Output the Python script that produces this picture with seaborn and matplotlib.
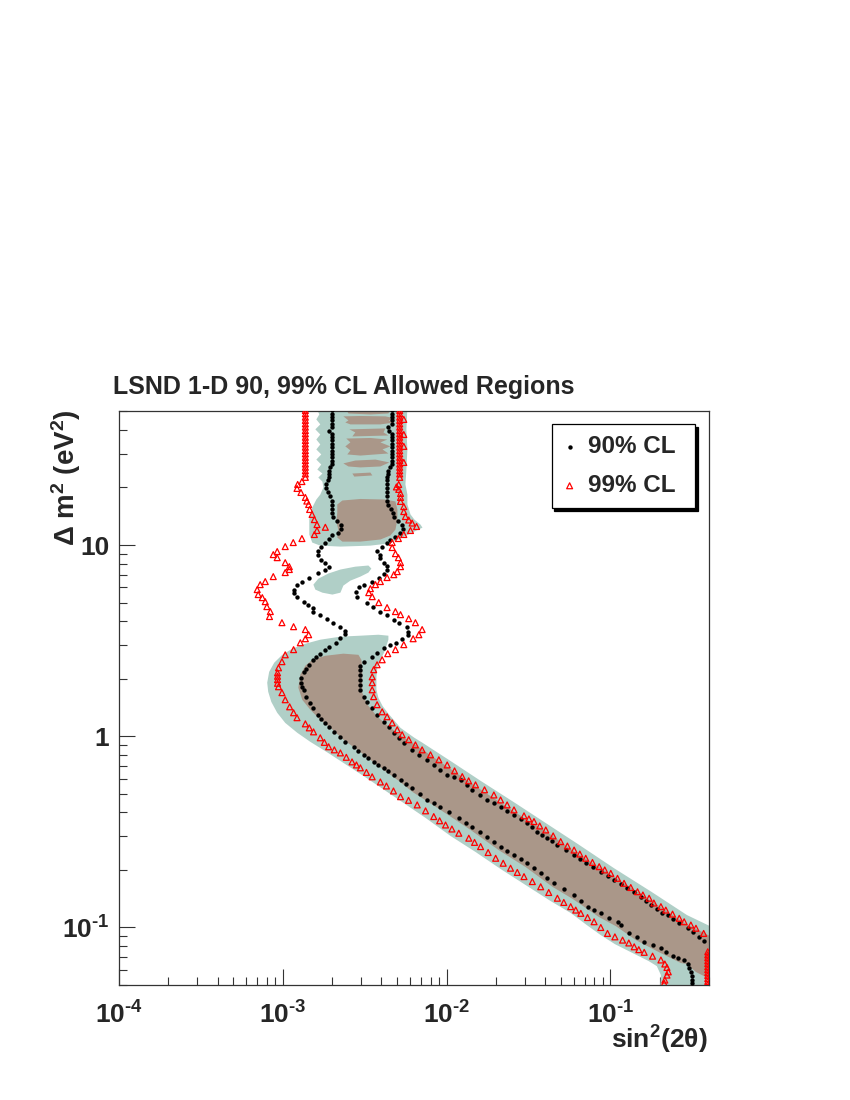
import numpy as np
import pandas as pd
import seaborn as sns
import matplotlib.pyplot as plt
from matplotlib.ticker import FixedLocator, FixedFormatter, LogLocator, NullFormatter

# all values are log10: lx = log10 sin^2(2theta), ly = log10 dm^2

# 90% CL, left edge
ly90_left = [1.704, 1.687, 1.669, 1.652, 1.634, 1.617, 1.599, 1.582, 1.564, 1.547,
             1.529, 1.512, 1.494, 1.477, 1.459, 1.442, 1.424, 1.407, 1.389, 1.372,
             1.354, 1.338, 1.317, 1.296, 1.275, 1.254, 1.233, 1.212, 1.191, 1.170,
             1.149, 1.128, 1.107, 1.086, 1.065, 1.050, 1.034, 1.013, 0.992, 0.971,
             0.950,
             0.924, 0.908, 0.887, 0.872, 0.856, 0.830, 0.809, 0.793, 0.767, 0.751,
             0.730, 0.704, 0.688, 0.673, 0.652, 0.636, 0.615, 0.594, 0.573, 0.552,
             0.536, 0.515, 0.489, 0.468, 0.453, 0.432, 0.416, 0.400, 0.374, 0.353,
             0.337, 0.306, 0.280, 0.259, 0.243, 0.207, 0.175, 0.149, 0.112, 0.091,
             0.070, 0.047, 0.023, -0.003, -0.029, -0.055, -0.076, -0.097, -0.116, -0.134,
             -0.150, -0.165, -0.184, -0.202, -0.228, -0.249, -0.272, -0.301, -0.333, -0.351,
             -0.368, -0.398, -0.429, -0.451, -0.473, -0.499, -0.525, -0.551, -0.577, -0.600,
             -0.621, -0.642, -0.664, -0.690, -0.717, -0.743, -0.769, -0.799, -0.830, -0.862,
             -0.891, -0.909, -0.926, -0.948, -0.970, -0.987, -1.031, -1.049, -1.075, -1.092,
             -1.109, -1.127, -1.150, -1.160, -1.170, -1.191, -1.214, -1.232, -1.254, -1.275,
             -1.292]
lx90_left = [-2.699, -2.699, -2.699, -2.699, -2.699, -2.699, -2.716, -2.699, -2.699, -2.699,
             -2.699, -2.699, -2.699, -2.699, -2.699, -2.699, -2.699, -2.710, -2.716, -2.716,
             -2.720, -2.725, -2.734, -2.734, -2.722, -2.709, -2.699, -2.699, -2.699, -2.699,
             -2.691, -2.667, -2.645, -2.642, -2.661, -2.697, -2.720, -2.744, -2.766, -2.787,
             -2.787,
             -2.766, -2.740, -2.717, -2.740, -2.787, -2.838, -2.883, -2.913, -2.934, -2.934,
             -2.913, -2.873, -2.844, -2.815, -2.815, -2.771, -2.730, -2.693, -2.648, -2.618,
             -2.618, -2.648, -2.673, -2.716, -2.744, -2.771, -2.795, -2.815, -2.842, -2.859,
             -2.873, -2.887, -2.887, -2.881, -2.873, -2.856, -2.832, -2.815, -2.787, -2.764,
             -2.740, -2.716, -2.689, -2.648, -2.618, -2.567, -2.538, -2.506, -2.477, -2.445,
             -2.416, -2.383, -2.355, -2.322, -2.281, -2.245, -2.210, -2.165, -2.118, -2.079,
             -2.037, -1.982, -1.925, -1.884, -1.843, -1.798, -1.751, -1.713, -1.670, -1.630,
             -1.588, -1.547, -1.506, -1.466, -1.425, -1.384, -1.344, -1.284, -1.221, -1.180,
             -1.139, -1.101, -1.058, -1.009, -0.956, -0.936, -0.885, -0.834, -0.793, -0.742,
             -0.691, -0.661, -0.620, -0.584, -0.549, -0.524, -0.518, -0.508, -0.503, -0.503,
             -0.503]

# 90% CL, right edge
ly90_right = [1.704, 1.687, 1.669, 1.652, 1.634, 1.617, 1.599, 1.582, 1.564, 1.547,
              1.529, 1.512, 1.494, 1.477, 1.459, 1.442, 1.424, 1.407, 1.389, 1.372,
              1.354, 1.338, 1.317, 1.296, 1.275, 1.254, 1.233, 1.212, 1.191, 1.170,
              1.149, 1.128, 1.107, 1.086, 1.065, 1.044, 1.029, 1.013, 0.992, 0.971,
              0.950,
              0.934, 0.908, 0.890, 0.872, 0.851, 0.830, 0.809, 0.793, 0.780, 0.756,
              0.730, 0.699, 0.678, 0.652, 0.636, 0.610, 0.594, 0.573, 0.547, 0.531,
              0.510, 0.489, 0.476, 0.463, 0.437, 0.416, 0.390, 0.369, 0.348, 0.322,
              0.296, 0.270, 0.243, 0.207, 0.180, 0.149, 0.112, 0.076, 0.049, 0.018,
              -0.008, -0.034, -0.071, -0.097, -0.123, -0.150, -0.176, -0.202, -0.215, -0.228,
              -0.254, -0.280, -0.307, -0.333, -0.351, -0.368, -0.390, -0.411, -0.432, -0.455,
              -0.477, -0.499, -0.516, -0.533, -0.550, -0.568, -0.594, -0.621, -0.642, -0.664,
              -0.686, -0.708,
              -0.731, -0.752, -0.773, -0.795, -0.817, -0.839, -0.862, -0.883, -0.904, -0.926,
              -0.935, -0.953, -0.977, -1.004, -1.022, -1.048, -1.069]
lx90_right = [-2.332, -2.332, -2.332, -2.332, -2.332, -2.357, -2.350, -2.332, -2.332, -2.332,
              -2.332, -2.332, -2.332, -2.332, -2.332, -2.332, -2.332, -2.345, -2.355, -2.360,
              -2.363, -2.363, -2.363, -2.363, -2.363, -2.363, -2.363, -2.357, -2.338, -2.328,
              -2.318, -2.296, -2.272, -2.266, -2.283, -2.312, -2.343, -2.363, -2.393, -2.424,
              -2.408,
              -2.408, -2.383, -2.363, -2.363, -2.383, -2.414, -2.454, -2.506, -2.536, -2.550,
              -2.546, -2.485, -2.448, -2.404, -2.363, -2.322, -2.292, -2.240, -2.237, -2.237,
              -2.271, -2.306, -2.343, -2.379, -2.424, -2.454, -2.506, -2.526, -2.526, -2.526,
              -2.526, -2.526, -2.526, -2.506, -2.485, -2.454, -2.424, -2.383, -2.353, -2.322,
              -2.292, -2.261, -2.210, -2.169, -2.118, -2.078, -2.037, -1.996, -1.957, -1.914,
              -1.878, -1.843, -1.798, -1.751, -1.713, -1.670, -1.630, -1.588, -1.547, -1.506,
              -1.476, -1.445, -1.415, -1.384, -1.354, -1.323, -1.272, -1.221, -1.186, -1.150,
              -1.104, -1.058,
              -1.017, -0.977, -0.936, -0.895, -0.854, -0.813, -0.783, -0.752, -0.716, -0.685,
              -0.650, -0.618, -0.579, -0.528, -0.497, -0.457, -0.430]

# 99% CL, left edge
ly99_left = [1.704, 1.687, 1.669, 1.652, 1.634, 1.617, 1.599, 1.582, 1.564, 1.547,
             1.529, 1.512, 1.494, 1.477, 1.459, 1.442, 1.424, 1.407, 1.389, 1.372,
             1.354,
             1.332, 1.317, 1.296, 1.275, 1.249, 1.230, 1.212, 1.186, 1.160, 1.133,
             1.107, 1.093, 1.076, 1.055, 1.034, 1.013, 0.992, 0.966, 0.950, 0.934,
             0.908, 0.887, 0.872, 0.856, 0.835, 0.809, 0.793, 0.767, 0.741, 0.725,
             0.704, 0.678, 0.652, 0.626, 0.594, 0.573, 0.558, 0.531, 0.510, 0.489,
             0.453, 0.426, 0.390, 0.358, 0.332, 0.314, 0.296, 0.277, 0.259, 0.228,
             0.191, 0.154, 0.123, 0.097, 0.065, 0.044, 0.023, -0.008, -0.032, -0.055,
             -0.071, -0.087, -0.110, -0.134, -0.150, -0.165, -0.189, -0.212, -0.239, -0.260,
             -0.286, -0.316, -0.335, -0.359, -0.390, -0.420, -0.442, -0.464, -0.485, -0.507,
             -0.533, -0.555, -0.577, -0.608, -0.638, -0.664, -0.690, -0.712, -0.734, -0.760,
             -0.787, -0.817, -0.847, -0.869, -0.891, -0.909, -0.926, -0.948, -0.970, -1.000,
             -1.031,
             -1.049, -1.066, -1.081, -1.101, -1.116, -1.130, -1.150, -1.170, -1.191, -1.209,
             -1.232, -1.249, -1.275, -1.292]
lx99_left = [-2.862, -2.862, -2.862, -2.862, -2.862, -2.862, -2.862, -2.862, -2.862, -2.862,
             -2.862, -2.862, -2.862, -2.862, -2.862, -2.862, -2.862, -2.862, -2.862, -2.862,
             -2.862,
             -2.883, -2.909, -2.913, -2.889, -2.862, -2.853, -2.842, -2.836, -2.821, -2.807,
             -2.791, -2.740, -2.791, -2.807, -2.883, -2.936, -2.985, -3.034, -3.058, -3.034,
             -2.985, -2.960, -2.960, -2.985, -3.058, -3.107, -3.138, -3.156, -3.150, -3.125,
             -3.107, -3.097, -3.076, -3.081, -3.005, -2.934, -2.862, -2.842, -2.862, -2.893,
             -2.934, -2.985, -3.005, -3.026, -3.032, -3.032, -3.032, -3.032, -3.026, -3.005,
             -2.985, -2.958, -2.934, -2.913, -2.862, -2.838, -2.812, -2.771, -2.746, -2.720,
             -2.685, -2.648, -2.612, -2.577, -2.550, -2.526, -2.489, -2.454, -2.404, -2.367,
             -2.324, -2.281, -2.232, -2.179, -2.128, -2.078, -2.042, -2.006, -1.967, -1.925,
             -1.864, -1.829, -1.792, -1.746, -1.700, -1.654, -1.609, -1.568, -1.527, -1.476,
             -1.425, -1.376, -1.323, -1.284, -1.242, -1.211, -1.180, -1.139, -1.099, -1.058,
             -1.017,
             -0.972, -0.925, -0.887, -0.854, -0.826, -0.793, -0.742, -0.691, -0.667, -0.654,
             -0.646, -0.654, -0.667, -0.671]

# 99% CL, right edge (last block: column on the right border)
ly99_right = [1.704, 1.687, 1.669, 1.652, 1.634, 1.617, 1.599, 1.582, 1.564, 1.547,
              1.529, 1.512, 1.494, 1.477, 1.459, 1.442, 1.424, 1.407, 1.389, 1.372,
              1.354,
              1.657, 1.578, 1.516, 1.432,
              1.317, 1.304, 1.291, 1.270, 1.249, 1.228, 1.201, 1.175, 1.149, 1.131,
              1.115, 1.097, 1.076, 1.055, 1.034, 1.013, 0.987, 0.955, 0.934, 0.908,
              0.887, 0.861, 0.845, 0.830, 0.809, 0.793, 0.772, 0.751, 0.730, 0.699,
              0.673, 0.652, 0.636, 0.615, 0.594, 0.558, 0.531, 0.510, 0.479, 0.453,
              0.432, 0.400, 0.374, 0.348, 0.311, 0.280, 0.243, 0.207, 0.165, 0.128,
              0.102, 0.070, 0.034, 0.008, -0.018, -0.045, -0.071, -0.097, -0.123, -0.150,
              -0.181, -0.211, -0.233, -0.254, -0.280, -0.307, -0.333, -0.359, -0.385, -0.416,
              -0.432,
              -0.446, -0.469, -0.490, -0.521, -0.551, -0.574, -0.595, -0.616, -0.638, -0.660,
              -0.682, -0.699, -0.717, -0.743, -0.769, -0.791, -0.813, -0.830, -0.847, -0.872,
              -0.891, -0.909, -0.930, -0.952, -0.970, -0.987, -1.004, -1.031,
              -1.127, -1.143, -1.158, -1.174, -1.189, -1.205, -1.220, -1.236, -1.251, -1.267,
              -1.282, -1.298]
lx99_right = [-2.286, -2.286, -2.286, -2.286, -2.286, -2.286, -2.286, -2.286, -2.286, -2.286,
              -2.286, -2.286, -2.286, -2.286, -2.286, -2.286, -2.286, -2.286, -2.286, -2.286,
              -2.286,
              -2.261, -2.261, -2.261, -2.261,
              -2.292, -2.306, -2.292, -2.281, -2.281, -2.281, -2.261, -2.261, -2.251, -2.231,
              -2.210, -2.183, -2.220, -2.261, -2.294, -2.332, -2.332, -2.312, -2.294, -2.281,
              -2.281, -2.301, -2.322, -2.363, -2.404, -2.434, -2.465, -2.475, -2.454, -2.414,
              -2.363, -2.312, -2.281, -2.231, -2.190, -2.149, -2.169, -2.204, -2.261, -2.312,
              -2.359, -2.393, -2.424, -2.445, -2.454, -2.454, -2.454, -2.445, -2.424, -2.393,
              -2.363, -2.332, -2.301, -2.271, -2.231, -2.190, -2.149, -2.098, -2.047, -1.996,
              -1.951, -1.904, -1.865, -1.823, -1.768, -1.711, -1.670, -1.630, -1.588, -1.527,
              -1.497,
              -1.466, -1.431, -1.394, -1.349, -1.303, -1.262, -1.221, -1.186, -1.150, -1.109,
              -1.068, -1.034, -0.997, -0.956, -0.916, -0.875, -0.834, -0.801, -0.763, -0.734,
              -0.691, -0.661, -0.620, -0.579, -0.549, -0.508, -0.477, -0.430,
              -0.405, -0.405, -0.405, -0.405, -0.405, -0.405, -0.405, -0.405, -0.405, -0.405,
              -0.405, -0.405]

# 99% CL allowed region outlines (green)
green_top_lx = [-2.783, -2.239, -2.245, -2.239, -2.245, -2.251, -2.239, -2.239, -2.220, -2.196,
                -2.159, -2.147, -2.183, -2.245, -2.294, -2.355, -2.465, -2.648, -2.771, -2.820,
                -2.838, -2.838, -2.820, -2.795, -2.771, -2.752, -2.758, -2.783, -2.758, -2.789,
                -2.765, -2.795, -2.765, -2.795, -2.771, -2.795, -2.771, -2.801, -2.771, -2.795,
                -2.777, -2.795]
green_top_ly = [1.72, 1.72, 1.605, 1.500, 1.395, 1.317, 1.264, 1.212, 1.160, 1.133,
                1.107, 1.091, 1.076, 1.050, 1.029, 1.008, 0.997, 0.992, 0.997, 1.013,
                1.055, 1.133, 1.196, 1.238, 1.264, 1.301, 1.332, 1.353, 1.374, 1.395,
                1.421, 1.447, 1.474, 1.500, 1.526, 1.552, 1.578, 1.605, 1.631, 1.657,
                1.683, 1.72]
green_isl_lx = [-2.813, -2.783, -2.722, -2.648, -2.557, -2.477, -2.459, -2.477, -2.526, -2.587,
                -2.630, -2.648, -2.697, -2.758, -2.801]
green_isl_ly = [0.793, 0.824, 0.851, 0.872, 0.887, 0.893, 0.877, 0.856, 0.835, 0.814,
                0.788, 0.751, 0.741, 0.751, 0.767]
green_band_lx = [-3.095, -3.083, -3.052, -3.003, -2.942, -2.862, -2.771, -2.648, -2.526, -2.416,
                 -2.355, -2.355, -2.379, -2.404, -2.422, -2.428, -2.428, -2.416, -2.391, -2.355,
                 -2.318, -2.281, -2.239, -2.196, -2.147, -1.976, -1.792, -1.572, -1.376, -1.199,
                 -0.979, -0.746, -0.532, -0.391, -0.391, -0.697, -0.691, -0.716, -0.765, -0.863,
                 -0.972, -1.058, -1.144, -1.242, -1.364, -1.517, -1.670, -1.823, -1.976, -2.128,
                 -2.281, -2.416, -2.526, -2.630, -2.734, -2.832, -2.911, -2.985, -3.034, -3.070,
                 -3.089]
green_band_ly = [0.280, 0.337, 0.385, 0.426, 0.458, 0.484, 0.505, 0.521, 0.526, 0.531,
                 0.526, 0.505, 0.442, 0.400, 0.364, 0.311, 0.243, 0.201, 0.159, 0.118,
                 0.081, 0.044, 0.018, -0.008, -0.034, -0.129, -0.233, -0.354, -0.464, -0.563,
                 -0.689, -0.815, -0.935, -0.993, -1.33, -1.33, -1.249, -1.202, -1.176, -1.134,
                 -1.087, -1.040, -0.987, -0.924, -0.862, -0.778, -0.694, -0.605, -0.521, -0.427,
                 -0.338, -0.260, -0.197, -0.139, -0.081, -0.029, 0.018, 0.070, 0.123, 0.180,
                 0.233]

# 90% CL allowed region outlines (brown)
brown_1_lx = [-2.612, -2.343, -2.355, -2.465, -2.599]
brown_1_ly = [1.709, 1.709, 1.688, 1.683, 1.688]
brown_2_lx = [-2.630, -2.526, -2.373, -2.312, -2.355, -2.318, -2.404, -2.587, -2.618, -2.599]
brown_2_ly = [1.673, 1.675, 1.673, 1.662, 1.652, 1.641, 1.631, 1.631, 1.641, 1.652]
brown_3_lx = [-2.593, -2.373, -2.385, -2.355, -2.575, -2.557]
brown_3_ly = [1.605, 1.610, 1.589, 1.573, 1.568, 1.589]
brown_4_lx = [-2.612, -2.465, -2.361, -2.404, -2.343, -2.391, -2.355, -2.526, -2.606, -2.587,
              -2.618, -2.587]
brown_4_ly = [1.557, 1.560, 1.552, 1.537, 1.516, 1.500, 1.479, 1.468, 1.474, 1.495,
              1.516, 1.537]
brown_5_lx = [-2.630, -2.557, -2.434, -2.349, -2.404, -2.526, -2.599]
brown_5_ly = [1.427, 1.442, 1.447, 1.432, 1.411, 1.406, 1.411]
brown_6_lx = [-2.575, -2.465, -2.453, -2.563]
brown_6_ly = [1.374, 1.379, 1.364, 1.358]
brown_blob_lx = [-2.667, -2.636, -2.526, -2.373, -2.312, -2.300, -2.300, -2.312, -2.343, -2.404,
                 -2.526, -2.636, -2.667, -2.661, -2.673, -2.667]
brown_blob_ly = [1.212, 1.233, 1.241, 1.238, 1.228, 1.186, 1.133, 1.081, 1.050, 1.029,
                 1.018, 1.018, 1.039, 1.081, 1.123, 1.170]
brown_band_lx = [-2.905, -2.893, -2.862, -2.820, -2.740, -2.630, -2.538, -2.520, -2.514, -2.514,
                 -2.483, -2.422, -2.343, -2.239, -2.190, -1.994, -1.816, -1.584, -1.388, -1.217,
                 -0.991, -0.758, -0.544, -0.391, -0.391, -0.477, -0.532, -0.569, -0.703, -0.844,
                 -0.966, -1.070, -1.229, -1.352, -1.517, -1.682, -1.853, -2.037, -2.208, -2.300,
                 -2.385, -2.465, -2.544, -2.630, -2.709, -2.771, -2.832, -2.881]
brown_band_ly = [0.254, 0.322, 0.369, 0.400, 0.421, 0.432, 0.426, 0.400, 0.348, 0.227,
                 0.165, 0.102, 0.044, -0.018, -0.045, -0.160, -0.265, -0.396, -0.500, -0.605,
                 -0.726, -0.856, -0.977, -1.045, -1.270, -1.233, -1.191, -1.186, -1.129, -1.066,
                 -0.993, -0.945, -0.851, -0.788, -0.684, -0.595, -0.490, -0.385, -0.291, -0.228,
                 -0.176, -0.123, -0.071, -0.018, 0.044, 0.086, 0.139, 0.191]

x_ticks = [1e-4, 1e-3, 1e-2, 1e-1]
x_tick_labels = ['$10^{\u20104}$', '$10^{\u20103}$', '$10^{\u20102}$', '$10^{\u20101}$']
y_ticks = [0.1, 1, 10]
y_tick_labels = ['$10^{\u20101}$', '1', '10']

GREEN = '#b0cfc7'
BROWN = '#aa9789'

sns.set_style('ticks')
plt.rcParams['font.family'] = ['Liberation Sans', 'DejaVu Sans']
plt.rcParams['font.weight'] = 'bold'
plt.rcParams['mathtext.fontset'] = 'custom'
plt.rcParams['mathtext.rm'] = 'Liberation Sans:bold'
plt.rcParams['mathtext.bf'] = 'Liberation Sans:bold'
plt.rcParams['mathtext.it'] = 'Liberation Sans:bold:italic'
plt.rcParams['mathtext.default'] = 'rm'


def points(lx, ly):
    return pd.DataFrame({'sin2': 10 ** np.array(lx), 'dm2': 10 ** np.array(ly)})


fig = plt.figure(figsize=(8.5, 11), dpi=100)
ax = fig.add_axes([0.140, 0.1045, 0.694, 0.5215])
ax.set_xscale('log')
ax.set_yscale('log')

for lx, ly in [(green_top_lx, green_top_ly), (green_isl_lx, green_isl_ly),
               (green_band_lx, green_band_ly)]:
    ax.fill(10 ** np.array(lx), 10 ** np.array(ly), color=GREEN, lw=0, zorder=1)
for lx, ly in [(brown_1_lx, brown_1_ly), (brown_2_lx, brown_2_ly), (brown_3_lx, brown_3_ly),
               (brown_4_lx, brown_4_ly), (brown_5_lx, brown_5_ly), (brown_6_lx, brown_6_ly),
               (brown_blob_lx, brown_blob_ly), (brown_band_lx, brown_band_ly)]:
    ax.fill(10 ** np.array(lx), 10 ** np.array(ly), color=BROWN, lw=0, zorder=2)

df90 = pd.concat([points(lx90_left, ly90_left), points(lx90_right, ly90_right)])
df99 = pd.concat([points(lx99_left, ly99_left), points(lx99_right, ly99_right)])

sns.scatterplot(data=df90, x='sin2', y='dm2', color='black', marker='o', s=10,
                linewidth=0, label='90% CL', ax=ax, zorder=3)
sns.scatterplot(data=df99, x='sin2', y='dm2', color='red', marker='^', s=18,
                facecolor='none', edgecolor='red', linewidth=0.9, label='99% CL',
                ax=ax, zorder=4)

ax.set_xlim(1e-4, 0.4)
ax.set_ylim(0.05, 50)
ax.set_xlabel('')
ax.set_ylabel('')

ax.xaxis.set_major_locator(FixedLocator(x_ticks))
ax.xaxis.set_major_formatter(FixedFormatter(x_tick_labels))
ax.yaxis.set_major_locator(FixedLocator(y_ticks))
ax.yaxis.set_major_formatter(FixedFormatter(y_tick_labels))
ax.xaxis.set_minor_locator(LogLocator(base=10, subs=np.arange(2, 10), numticks=20))
ax.yaxis.set_minor_locator(LogLocator(base=10, subs=np.arange(2, 10), numticks=20))
ax.xaxis.set_minor_formatter(NullFormatter())
ax.yaxis.set_minor_formatter(NullFormatter())

ax.tick_params(which='both', direction='in', top=False, right=False,
               color='#333333', width=0.8, labelsize=19)
ax.tick_params(which='major', length=11.5)
ax.tick_params(which='minor', length=5.5)
ax.tick_params(axis='x', pad=12)
ax.tick_params(axis='y', pad=7)
for sp in ax.spines.values():
    sp.set_color('#333333')
    sp.set_linewidth(0.9)

# legend box stretched over the width it has in the reference
leg = ax.legend(loc='upper left', bbox_to_anchor=(0.7334, 0.5, 0.2428, 0.4773),
                mode='expand', borderaxespad=0,
                frameon=True, fancybox=False, framealpha=1,
                shadow={'color': 'black', 'alpha': 1.0},
                fontsize=17.5, handlelength=0.58, handletextpad=0.45,
                borderpad=0.45, labelspacing=0.65)
leg.get_frame().set_edgecolor('black')
leg.get_frame().set_linewidth(0.9)

fig.text(113 / 850, 1 - 387 / 1100, 'LSND 1-D 90, 99% CL Allowed Regions',
         fontsize=18, fontweight='bold', ha='left', va='center')
fig.text(66 / 850, 1 - 409 / 1100, 'Δ m$^{2}$ (eV$^{2}$)', rotation=90,
         fontsize=20, fontweight='bold', ha='center', va='top')
fig.text(708 / 850, 1 - 1040 / 1100, 'sin$^{2}$(2θ)', fontsize=19,
         fontweight='bold', ha='right', va='center')

fig.savefig('out.png', dpi=100)
